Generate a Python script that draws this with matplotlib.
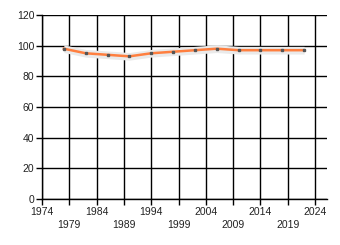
import matplotlib.pyplot as plt

years = [1978, 1982, 1986, 1990, 1994, 1998, 2002, 2006, 2010, 2014, 2018, 2022]
values = [98, 95, 94, 93, 95, 96, 97, 98, 97, 97, 97, 97]
tick_years = [1974, 1979, 1984, 1989, 1994, 1999, 2004, 2009, 2014, 2019, 2024]
y_ticks = [0, 20, 40, 60, 80, 100, 120]

plt.rcParams['font.family'] = ['Liberation Sans', 'DejaVu Sans']

fig = plt.figure(figsize=(3.4, 2.45), dpi=100)
ax = fig.add_axes([0.1235, 0.188, 0.8385, 0.751])

# light shadow band around the line
lower = [v - 2.5 for v in values]
upper = [v + 2.5 for v in values]
ax.fill_between(years, lower, upper, color='#eaeaea', lw=0, zorder=2)
ax.plot(years, values, color='#ff7f3f', lw=1.8, zorder=3)
ax.plot(years, values, ls='none', marker='s', ms=1.8, color='#555555', zorder=4)

ax.set_xlim(1974, 2026.2)
ax.set_ylim(0, 120)
ax.set_xticks(tick_years)
labels = [str(y) if i % 2 == 0 else '\n' + str(y) for i, y in enumerate(tick_years)]
ax.set_xticklabels(labels, linespacing=1.45)
ax.set_yticks(y_ticks)

ax.grid(True, color='black', lw=1.0, zorder=1)
ax.set_axisbelow(True)
for s in ['top', 'right']:
    ax.spines[s].set_visible(False)
for s in ['left', 'bottom']:
    ax.spines[s].set_linewidth(1.0)
ax.tick_params(axis='both', length=4, width=1, labelsize=7.5, colors='black',
               labelcolor='#222222', pad=1.5)

fig.savefig('out.png', dpi=100)
